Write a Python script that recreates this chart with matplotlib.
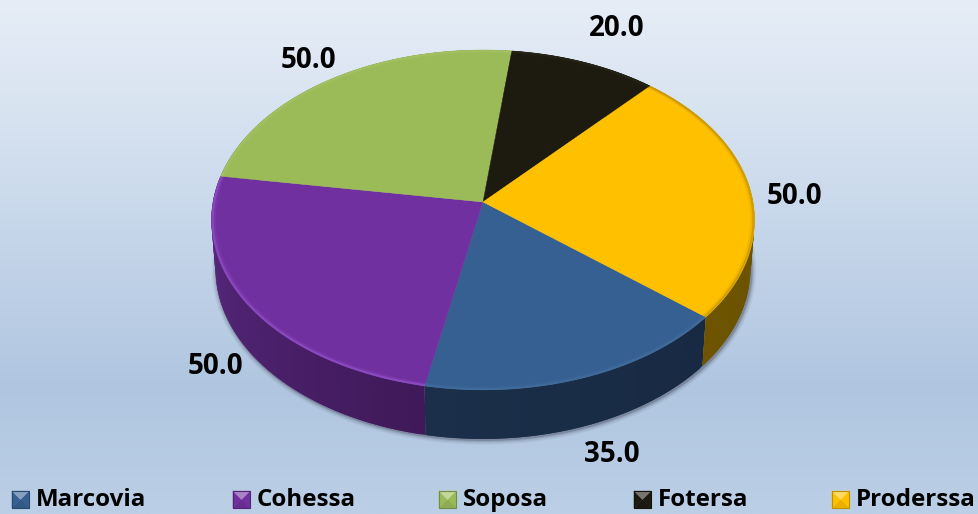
import numpy as np
import matplotlib
matplotlib.use("Agg")
import matplotlib.pyplot as plt
from matplotlib.colors import to_rgb

categories = ["Marcovia", "Cohessa", "Soposa", "Fotersa", "Proderssa"]
values = [35.0, 50.0, 50.0, 20.0, 50.0]
top_colors = ["#376092", "#7030A0", "#9BBB59", "#1D1B10", "#FFC000"]
rim_colors = ["#44719F", "#9A58D0", "#A8C568", "#2A2818", "#B88A00"]
side_left = ["#1B2F4A", "#5C2A84", "#4E5E2C", "#0E0D08", "#6E5400"]
side_right = ["#182A42", "#3F1959", "#4E5E2C", "#0E0D08", "#645000"]
label_pos = [(612, 455), (215, 366), (308, 61), (617, 28), (794, 196)]
legend_swatch_x = [12, 233, 439, 634, 832]

W, H = 979, 514
CX, CY, SX, SY, K = 483, 202, 270, 168, 0.106
START = 39.7
DEPTH = 49


def project(theta_deg, r=1.0):
    t = np.radians(theta_deg)
    x, y = r * np.cos(t), r * np.sin(t)
    d = 1 - K * y
    return CX + SX * x / d, CY + SY * y / d


def project_low(theta_deg):
    x, y = project(theta_deg)
    return CX + (x - CX) * 0.985, y + DEPTH


def mix(a, b, f):
    a, b = np.array(to_rgb(a)), np.array(to_rgb(b))
    return tuple(a + (b - a) * f)


fig = plt.figure(figsize=(W / 100, H / 100), dpi=100)
ax = fig.add_axes([0, 0, 1, 1])
ax.set_xlim(0, W)
ax.set_ylim(H, 0)
ax.axis("off")

# background gradient
ys = np.array([0, 0.2, 0.45, 0.75, 1.0])
c0 = np.array([to_rgb(c) for c in ["#E6EDF7", "#D9E4F1", "#C6D6EA", "#B0C6E0", "#BBCFE6"]])
yy = np.linspace(0, 1, 256)
grad = np.stack([np.interp(yy, ys, c0[:, i]) for i in range(3)], axis=1)[:, None, :]
grad = np.repeat(grad, 2, axis=1)
ax.imshow(grad, extent=(0, W, H, 0), aspect="auto", zorder=0, interpolation="bilinear")

fractions = np.array(values) / sum(values) * 360
edges = START + np.concatenate([[0], np.cumsum(fractions)])

# soft shadow round the wall
th = np.linspace(-10, 190, 300)
lx, ly = project_low(th)
for w, a in [(7, 0.05), (5, 0.08), (3, 0.12), (1.5, 0.2)]:
    ax.plot(lx + 1, ly + 1, color="#223", lw=w, alpha=a, zorder=1, solid_capstyle="round")

# side walls
for i in range(len(values)):
    a, b = edges[i], edges[i + 1]
    n = max(int(b - a), 2)
    steps = np.linspace(a, b, n + 1)
    for p, q in zip(steps[:-1], steps[1:]):
        tt = np.linspace(p, min(q + 1.0, b), 5)
        tx, ty = project(tt)
        bx, by = project_low(tt)
        f = (p - a) / (b - a)
        col = mix(side_left[i], side_right[i], 1 - f)
        ax.fill(np.r_[tx, bx[::-1]], np.r_[ty, by[::-1]], color=col, lw=0, zorder=2)

# top faces
for i in range(len(values)):
    tt = np.linspace(edges[i], edges[i + 1], 200)
    tx, ty = project(tt)
    ax.fill(np.r_[CX, tx], np.r_[CY, ty], color=top_colors[i], lw=0.3, ec=top_colors[i], zorder=3)
    # bevelled rim
    for r, lw, al in [(0.996, 1.4, 0.6), (0.990, 2.0, 0.2)]:
        rx, ry = project(tt, r)
        ax.plot(rx, ry, color=rim_colors[i], lw=lw, alpha=al, zorder=4, solid_capstyle="butt")

font = ["Open Sans", "DejaVu Sans"]
for v, (x, y) in zip(values, label_pos):
    ax.text(x, y, f"{v:.1f}", ha="center", va="center", fontsize=20, fontweight="bold",
            family=font, color="black", zorder=6)

# legend
S = 17
for name, col, x in zip(categories, top_colors, legend_swatch_x):
    y = 491
    c = (x + S / 2, y + S / 2)
    corners = [(x, y), (x + S, y), (x + S, y + S), (x, y + S)]
    shades = [mix(col, "#FFFFFF", 0.4), col, mix(col, "#000000", 0.08), col]
    for j in [1, 2, 3, 0]:
        p, q = corners[j], corners[(j + 1) % 4]
        ax.fill([p[0], q[0], c[0]], [p[1], q[1], c[1]], color=shades[j], lw=0.3, ec=shades[j], zorder=5)
    ax.plot([p[0] for p in corners] + [x], [p[1] for p in corners] + [y], color=mix(col, "#000000", 0.25),
            lw=0.8, zorder=5)
    ax.text(x + S + 7, y + S / 2 + 0.5, name, ha="left", va="center", fontsize=17.4, fontweight="bold",
            family=font, color="black", zorder=6)

ax.set_xlim(0, W)
ax.set_ylim(H, 0)
fig.savefig("out.png", dpi=100)
